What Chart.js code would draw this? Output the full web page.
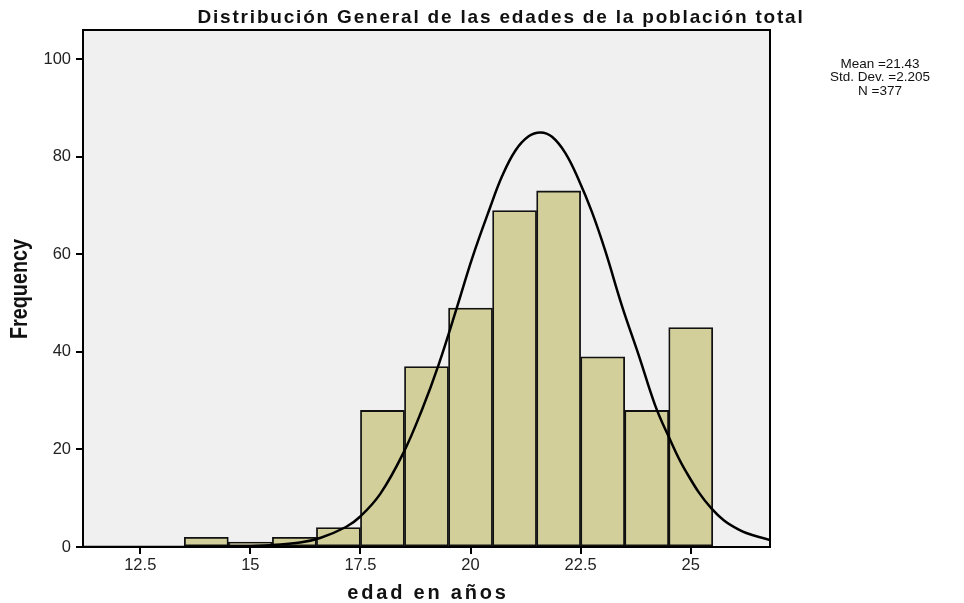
<!DOCTYPE html>
<html>
<head>
<meta charset="utf-8">
<script src="https://cdn.jsdelivr.net/npm/chart.js@4.4.1/dist/chart.umd.min.js"></script>
<style>
  html, body { margin: 0; padding: 0; background: #fff; }
  #wrap { width: 964px; height: 603px; }
</style>
</head>
<body>
<div id="wrap"><canvas id="histChart" width="964" height="603"></canvas></div>
<script>
// dati
const binCenters = [14, 15, 16, 17, 18, 19, 20, 21, 22, 23, 24, 25];
const frequencies = [2, 1, 2, 4, 28, 37, 49, 69, 73, 39, 28, 45];

// curva normale
const curveX = [11.2, 13, 14, 15, 15.5, 16.13, 16.6, 17.17, 17.49, 17.95, 18.47, 18.9, 19.28, 19.7, 20.04, 20.44, 20.72, 21.02, 21.32, 21.59, 21.85, 22.15, 22.45, 22.76, 23.06, 23.44, 23.82, 24.19, 24.48, 24.87, 25.48, 26.08, 26.8];
const curveY = [0, 0, 0.03, 0.15, 0.4, 0.9, 1.9, 4.1, 6.2, 10.9, 19.2, 28.2, 37.5, 49.4, 59.3, 69.5, 76.1, 81.3, 84.2, 85.0, 84.1, 80.8, 75.4, 68.6, 60.7, 49.4, 39.3, 29.1, 23.0, 15.8, 7.8, 3.6, 1.4];

const xTickValues = [12.5, 15, 17.5, 20, 22.5, 25];
const yTickValues = [0, 20, 40, 60, 80, 100];

const chartTitle = 'Distribución General de las edades de la población total';
const xTitle = 'edad en años';
const yTitle = 'Frequency';
const statsLines = ['Mean =21.43', 'Std. Dev. =2.205', 'N =377'];

const FONT = '"Liberation Sans", Arial, sans-serif';

// sfondo grigio, bordo e testi
const decorPlugin = {
    id: 'decor',
    beforeDatasetsDraw(chart) {
        const a = chart.chartArea;
        const ctx = chart.ctx;
        ctx.save();
        ctx.fillStyle = '#f0f0f0';
        ctx.fillRect(a.left, a.top, a.right - a.left, a.bottom - a.top);
        ctx.restore();
    },
    afterDraw(chart) {
        const a = chart.chartArea;
        const ctx = chart.ctx;
        ctx.save();
        ctx.strokeStyle = '#000';
        ctx.lineWidth = 2;
        ctx.strokeRect(a.left, a.top, a.right - a.left, a.bottom - a.top);

        ctx.fillStyle = '#111';
        ctx.textAlign = 'center';
        ctx.textBaseline = 'middle';

        // titolo: spaziatura per occupare ~607px come nell'originale
        ctx.font = 'bold 19px ' + FONT;
        ctx.letterSpacing = '0px';
        const w0 = ctx.measureText(chartTitle).width;
        ctx.letterSpacing = ((607 - w0) / chartTitle.length).toFixed(2) + 'px';
        ctx.fillText(chartTitle, 501, 18);

        ctx.font = 'bold 20px ' + FONT;
        ctx.letterSpacing = '2.8px';
        ctx.fillText(xTitle, 428, 593);

        ctx.letterSpacing = '0px';
        ctx.font = '13.5px ' + FONT;
        statsLines.forEach((t, i) => ctx.fillText(t, 880, 64 + i * 13.5));

        ctx.translate(21, 289);
        ctx.rotate(-Math.PI / 2);
        ctx.scale(0.86, 1);
        ctx.font = 'bold 23px ' + FONT;
        ctx.fillText(yTitle, 0, 0);
        ctx.restore();
    }
};

const ctx = document.getElementById('histChart').getContext('2d');
const histChart = new Chart(ctx, {
    type: 'bar',
    data: {
        datasets: [{
            type: 'line',
            data: curveX.map((x, i) => ({ x: x, y: curveY[i] })),
            borderColor: '#000',
            borderWidth: 2.5,
            pointRadius: 0,
            tension: 0.4,
            fill: false,
            order: 0
        }, {
            type: 'bar',
            data: binCenters.map((x, i) => ({ x: x, y: frequencies[i] })),
            backgroundColor: '#d3cf9a',
            borderColor: '#111',
            borderWidth: 1.8,
            borderSkipped: false,
            barPercentage: 1,
            categoryPercentage: 1,
            order: 1
        }]
    },
    options: {
        responsive: false,
        animation: false,
        layout: {
            padding: { top: 30, right: 194, left: 0, bottom: 0 }
        },
        plugins: {
            legend: { display: false },
            tooltip: { enabled: false }
        },
        scales: {
            x: {
                type: 'linear',
                offset: false,
                min: 11.2,
                max: 26.8,
                afterBuildTicks: (scale) => { scale.ticks = xTickValues.map(v => ({ value: v })); },
                afterFit: (scale) => { scale.height = 56; },
                grid: { offset: false, drawOnChartArea: false, drawTicks: true, tickLength: 7, color: '#000', lineWidth: 2 },
                border: { display: true, color: '#000', width: 2 },
                ticks: {
                    color: '#222',
                    padding: 2,
                    maxRotation: 0,
                    font: { family: FONT, size: 16.5 },
                    callback: (v) => String(v)
                }
            },
            y: {
                type: 'linear',
                min: 0,
                max: 106,
                afterBuildTicks: (scale) => { scale.ticks = yTickValues.map(v => ({ value: v })); },
                afterFit: (scale) => { scale.width = 83; },
                grid: { drawOnChartArea: false, drawTicks: true, tickLength: 7, color: '#000', lineWidth: 2 },
                border: { display: true, color: '#000', width: 2 },
                ticks: {
                    color: '#222',
                    padding: 5,
                    font: { family: FONT, size: 16.5 },
                    callback: (v) => String(v)
                }
            }
        }
    },
    plugins: [decorPlugin]
});
</script>
</body>
</html>
